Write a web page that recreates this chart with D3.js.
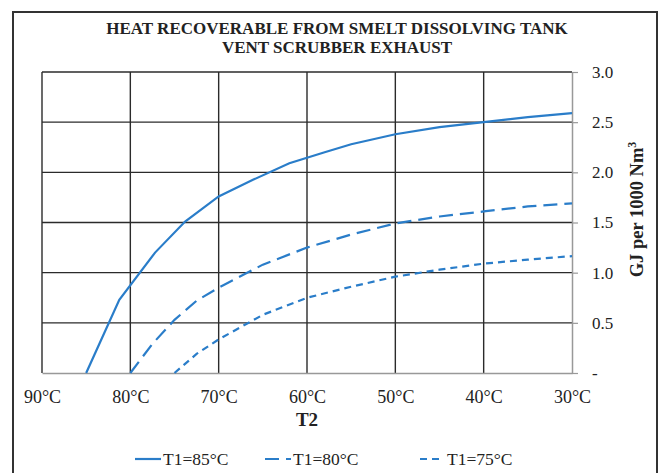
<!DOCTYPE html>
<html>
<head>
<meta charset="utf-8">
<script src="https://cdn.jsdelivr.net/npm/d3@7"></script>
<style>
  body { margin: 0; background: #fff; }
  svg text { font-family: "Liberation Serif", "Times New Roman", serif; fill: #222; }
</style>
</head>
<body>
<div id="okvir"></div>
<script>
// data
const t2Ticks = [90, 80, 70, 60, 50, 40, 30];
const yTicks = [0, 0.5, 1.0, 1.5, 2.0, 2.5, 3.0];

const t85_x = [85, 81.25, 77.2, 73.8, 70, 66, 62, 58, 55, 50, 45, 40, 35, 30];
const t85_y = [0, 0.73, 1.20, 1.51, 1.76, 1.93, 2.09, 2.20, 2.28, 2.38, 2.45, 2.50, 2.55, 2.59];

const t80_x = [80, 77.5, 75, 72.5, 70, 65, 60, 55, 50, 45, 40, 35, 30];
const t80_y = [0, 0.29, 0.53, 0.72, 0.85, 1.08, 1.25, 1.38, 1.49, 1.56, 1.61, 1.66, 1.69];

const t75_x = [75, 72.5, 70, 65, 60, 55, 50, 45, 40, 35, 30];
const t75_y = [0, 0.19, 0.335, 0.58, 0.75, 0.86, 0.96, 1.03, 1.09, 1.13, 1.165];

const serije = [
  { ime: "T1=85°C", x: t85_x, y: t85_y, dash: null },
  { ime: "T1=80°C", x: t80_x, y: t80_y, dash: "14,7" },
  { ime: "T1=75°C", x: t75_x, y: t75_y, dash: "7,5" }
];

const plava = "#2a7dc9";

const dim = { sirina: 665, visina: 473, left: 42, right: 572, top: 72, bottom: 373 };

const svg = d3.select("#okvir").append("svg")
  .attr("width", dim.sirina)
  .attr("height", dim.visina);

// okvir
svg.append("rect")
  .attr("x", 13).attr("y", 12)
  .attr("width", 644).attr("height", 490)
  .attr("fill", "none").attr("stroke", "#333").attr("stroke-width", 2);

// naslov
svg.append("text").attr("x", 337).attr("y", 34)
  .attr("text-anchor", "middle").attr("font-size", 17).attr("font-weight", "bold")
  .text("HEAT RECOVERABLE FROM SMELT DISSOLVING TANK");
svg.append("text").attr("x", 337).attr("y", 53)
  .attr("text-anchor", "middle").attr("font-size", 17).attr("font-weight", "bold")
  .text("VENT SCRUBBER EXHAUST");

const xSkala = d3.scaleLinear().domain([90, 30]).range([dim.left, dim.right]);
const ySkala = d3.scaleLinear().domain([0, 3]).range([dim.bottom, dim.top]);

// mreza
const mreza = svg.append("g");
mreza.selectAll(".vl").data(t2Ticks.slice(0, -1)).join("line")
  .attr("x1", d => xSkala(d)).attr("x2", d => xSkala(d))
  .attr("y1", dim.top).attr("y2", dim.bottom)
  .attr("stroke", "#2b2b2b").attr("stroke-width", 1.4);
mreza.selectAll(".hl").data(yTicks.slice(1)).join("line")
  .attr("x1", dim.left).attr("x2", dim.right)
  .attr("y1", d => ySkala(d)).attr("y2", d => ySkala(d))
  .attr("stroke", "#2b2b2b").attr("stroke-width", 1.4);

// x os
const xOs = svg.append("g")
  .attr("transform", `translate(0,${dim.bottom})`)
  .call(d3.axisBottom(xSkala).tickValues(t2Ticks).tickSize(0).tickPadding(17)
    .tickFormat(d => d + "°C"));
xOs.select(".domain").attr("stroke", "#999").attr("stroke-width", 1.5);
xOs.selectAll("text").attr("font-size", 18).attr("font-family", "Liberation Serif").attr("fill", "#222");

svg.append("text").attr("x", xSkala(60)).attr("y", 426)
  .attr("text-anchor", "middle").attr("font-size", 19).attr("font-weight", "bold")
  .text("T2");

// y os (desno)
const yOs = svg.append("g")
  .attr("transform", `translate(${dim.right},0)`)
  .call(d3.axisRight(ySkala).tickValues(yTicks).tickSize(6).tickSizeOuter(0).tickPadding(14)
    .tickFormat(d => d === 0 ? "-" : d3.format(".1f")(d)));
yOs.select(".domain").attr("stroke", "#999").attr("stroke-width", 1.5);
yOs.selectAll(".tick line").attr("stroke", "#999").attr("stroke-width", 1.2);
yOs.selectAll("text").attr("font-size", 17).attr("font-family", "Liberation Serif").attr("fill", "#222");

const yNaslov = svg.append("text")
  .attr("transform", `translate(643,${(dim.top + dim.bottom) / 2 - 13}) rotate(-90)`)
  .attr("text-anchor", "middle").attr("font-size", 18.5).attr("font-weight", "bold");
yNaslov.append("tspan").text("GJ per 1000 Nm");
yNaslov.append("tspan").attr("font-size", 12).attr("dy", -7).text("3");

// linije
const linija = d3.line().x(d => xSkala(d[0])).y(d => ySkala(d[1]));
svg.selectAll(".serija").data(serije).join("path")
  .attr("d", s => linija(s.x.map((v, i) => [v, s.y[i]])))
  .attr("fill", "none").attr("stroke", plava).attr("stroke-width", 2.2)
  .attr("stroke-dasharray", s => s.dash);

// legenda
const legX = [135, 265, 420];
const leg = svg.selectAll(".leg").data(serije).join("g")
  .attr("transform", (d, i) => `translate(${legX[i]},459)`);
leg.append("line").attr("x1", 0).attr("x2", (d, i) => i === 2 ? 22 : 26)
  .attr("stroke", plava).attr("stroke-width", 2.2)
  .attr("stroke-dasharray", d => d.dash);
leg.append("text").attr("x", (d, i) => i === 2 ? 27 : 28).attr("y", 6)
  .attr("font-size", 17.5).text(d => d.ime);
</script>
</body>
</html>
